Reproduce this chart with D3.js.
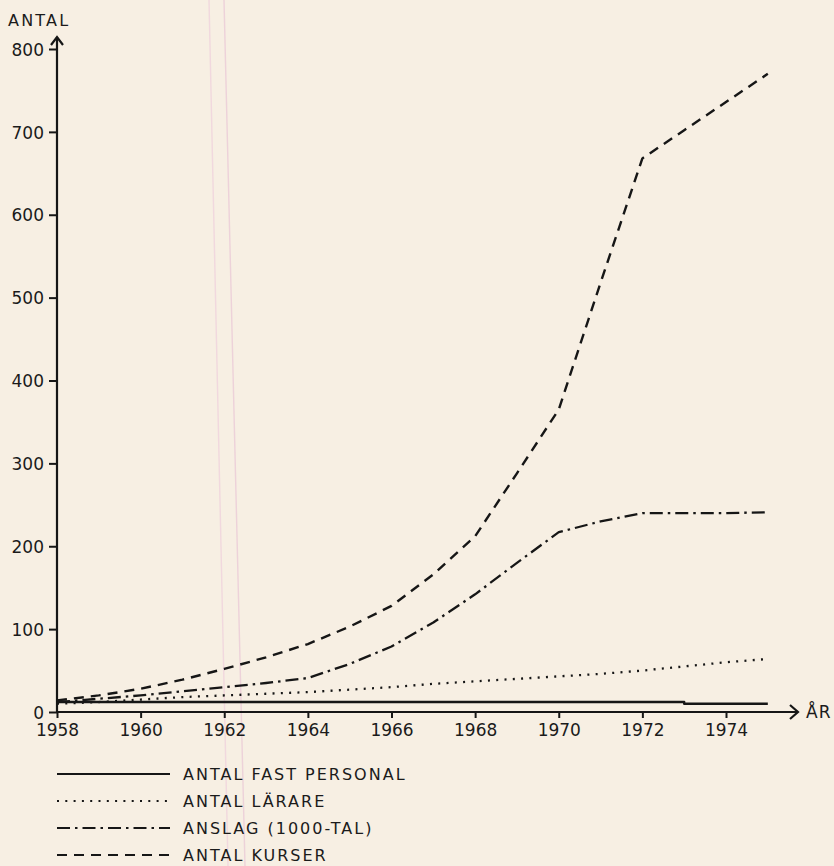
<!DOCTYPE html>
<html>
<head>
<meta charset="utf-8">
<script src="https://cdn.jsdelivr.net/npm/d3@7/dist/d3.min.js"></script>
<style>
  html, body { margin: 0; padding: 0; background: #f7efe3; }
  svg { display: block; }
  text { font-family: "DejaVu Sans", sans-serif; fill: #1b1b1b; }
</style>
</head>
<body>
<svg id="chart" width="834" height="866"></svg>
<script>
// ---- data ----
const years = [1958,1959,1960,1961,1962,1963,1964,1965,1966,1967,1968,1969,1970,1971,1972,1973,1974,1975];
const fastPersonal = [12,12,12,12,12,12,12,12,12,12,12,12,12,12,12,10,10,10];
const larare       = [10,12,15,18,20,22,24,27,30,34,37,40,43,46,50,55,60,64];
const anslag       = [12,16,20,25,30,35,41,58,79,108,142,180,217,230,240,240,240,241];
const kurser       = [14,20,28,39,52,66,82,103,128,166,212,288,365,518,668,702,736,770];
const yTicks = [0,100,200,300,400,500,600,700,800];
const xTicks = [1958,1960,1962,1964,1966,1968,1970,1972,1974];
const seriesNames = ["ANTAL FAST PERSONAL","ANTAL LÄRARE","ANSLAG (1000-TAL)","ANTAL KURSER"];
const yTitle = "ANTAL";
const xTitle = "ÅR";

const svg = d3.select("#chart");

// paper artefacts (faint pink guide lines of the scan)
svg.append("line").attr("x1",209).attr("y1",0).attr("x2",228).attr("y2",866)
  .attr("stroke","#efcfdc").attr("stroke-width",1.4).attr("opacity",0.7);
svg.append("line").attr("x1",224).attr("y1",0).attr("x2",245).attr("y2",866)
  .attr("stroke","#eac6d6").attr("stroke-width",1.4).attr("opacity",0.7);

const x = d3.scaleLinear().domain([1958,1974]).range([57,726]);
const y = d3.scaleLinear().domain([0,800]).range([712,49]);

const ink = "#161616";

// y axis
const yAxis = d3.axisLeft(y).tickValues(yTicks).tickSize(8).tickPadding(5).tickFormat(d3.format("d"));
const gy = svg.append("g").attr("transform","translate(57,0)").call(yAxis);
gy.select(".domain").remove();
gy.selectAll(".tick line").attr("stroke",ink).attr("stroke-width",2);
gy.selectAll(".tick text").attr("font-size",17).attr("fill",ink).attr("dy","0.36em").style("font-family","DejaVu Sans");
svg.append("line").attr("x1",57).attr("x2",57).attr("y1",712).attr("y2",37)
  .attr("stroke",ink).attr("stroke-width",2.2);
svg.append("path").attr("d","M51,45 L57,37 L63,45").attr("fill","none")
  .attr("stroke",ink).attr("stroke-width",2.2);

// x axis
const xAxis = d3.axisBottom(x).tickValues(xTicks).tickSize(6).tickPadding(6).tickFormat(d3.format("d"));
const gx = svg.append("g").attr("transform","translate(0,712)").call(xAxis);
gx.select(".domain").remove();
gx.selectAll(".tick line").attr("stroke",ink).attr("stroke-width",2);
gx.selectAll(".tick text").attr("font-size",17).attr("fill",ink).style("font-family","DejaVu Sans");
svg.append("line").attr("x1",56).attr("x2",797).attr("y1",712).attr("y2",712)
  .attr("stroke",ink).attr("stroke-width",2.2);
svg.append("path").attr("d","M790,705 L798,712 L790,719").attr("fill","none")
  .attr("stroke",ink).attr("stroke-width",2.2);

// titles
svg.append("text").attr("x",8).attr("y",26).attr("font-size",16)
  .attr("letter-spacing","2.2px").text(yTitle);
svg.append("text").attr("x",806).attr("y",718).attr("font-size",17)
  .attr("letter-spacing","1px").text(xTitle);

// series
const styles = [
  {values: fastPersonal, dash: null, width: 2.4, curve: d3.curveStepAfter},
  {values: larare, dash: "2,6.3", width: 2.3, curve: d3.curveLinear},
  {values: anslag, dash: "13,5,2.5,5", width: 2.3, curve: d3.curveLinear},
  {values: kurser, dash: "10,7", width: 2.4, curve: d3.curveLinear}
];

styles.forEach(s => {
  const line = d3.line().x((d,i) => x(years[i])).y(d => y(d)).curve(s.curve);
  svg.append("path").datum(s.values).attr("d", line)
    .attr("fill","none").attr("stroke",ink).attr("stroke-width",s.width)
    .attr("stroke-dasharray", s.dash).attr("stroke-linejoin","round");
});

// legend
const legendY = [774, 801, 828, 855];
const legendDash = [null, "2,6.3", "13,5,2.5,5", "10,7"];
seriesNames.forEach((name,i) => {
  svg.append("line").attr("x1",57).attr("x2",170).attr("y1",legendY[i]).attr("y2",legendY[i])
    .attr("stroke",ink).attr("stroke-width",2.2).attr("stroke-dasharray",legendDash[i]);
  svg.append("text").attr("x",183).attr("y",legendY[i]+6).attr("font-size",16)
    .attr("letter-spacing","2px").text(name);
});
</script>
</body>
</html>
